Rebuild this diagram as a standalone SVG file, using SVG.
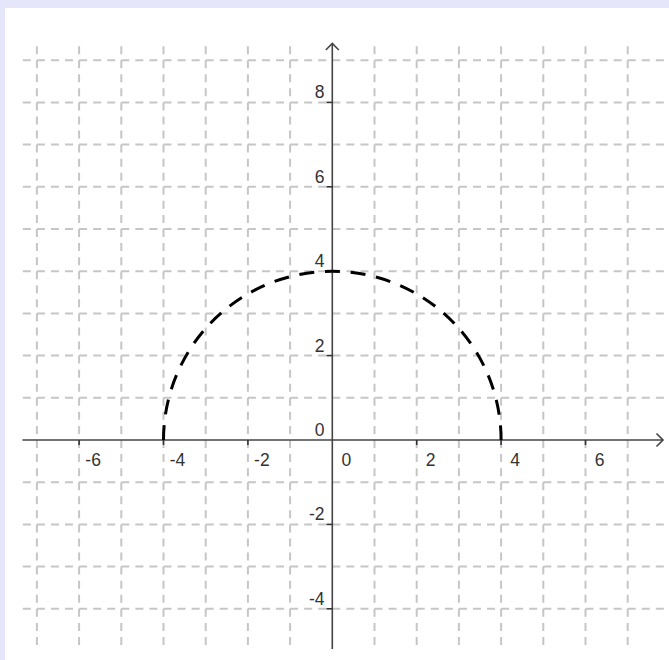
<svg xmlns="http://www.w3.org/2000/svg" width="669" height="660" viewBox="0 0 669 660">
<defs>
<style>
.vg{stroke:#c6c6c6;stroke-width:2;stroke-dasharray:8 6.067;fill:none}
.hg{stroke:#c6c6c6;stroke-width:2;stroke-dasharray:8 6.067;fill:none}
.ax{stroke:#444;stroke-width:1.6;fill:none}
.tk{stroke:#333;stroke-width:1.6;fill:none}
.lx{font-family:"Liberation Sans",Arial,sans-serif;font-size:17.5px;fill:#333;text-anchor:middle}
.ly{font-family:"Liberation Sans",Arial,sans-serif;font-size:17.5px;fill:#333;text-anchor:end}
.curve{stroke:#000;stroke-width:3;fill:none;stroke-dasharray:15 10.76}
</style>
</defs>
<rect x="0" y="0" width="669" height="660" fill="#e6e6fa"/>
<rect x="5" y="8" width="664" height="652" fill="#fff"/>
<g id="grid">
<g id="vgrid">
<line class="vg" x1="36.9" y1="46.13" x2="36.9" y2="645"/>
<line class="vg" x1="79.1" y1="46.13" x2="79.1" y2="645"/>
<line class="vg" x1="121.3" y1="46.13" x2="121.3" y2="645"/>
<line class="vg" x1="163.5" y1="46.13" x2="163.5" y2="645"/>
<line class="vg" x1="205.7" y1="46.13" x2="205.7" y2="645"/>
<line class="vg" x1="247.9" y1="46.13" x2="247.9" y2="645"/>
<line class="vg" x1="290.1" y1="46.13" x2="290.1" y2="645"/>
<line class="vg" x1="374.5" y1="46.13" x2="374.5" y2="645"/>
<line class="vg" x1="416.7" y1="46.13" x2="416.7" y2="645"/>
<line class="vg" x1="458.9" y1="46.13" x2="458.9" y2="645"/>
<line class="vg" x1="501.1" y1="46.13" x2="501.1" y2="645"/>
<line class="vg" x1="543.3" y1="46.13" x2="543.3" y2="645"/>
<line class="vg" x1="585.5" y1="46.13" x2="585.5" y2="645"/>
<line class="vg" x1="627.7" y1="46.13" x2="627.7" y2="645"/>
</g>
<g id="hgrid">
<line class="hg" x1="22.83" y1="60.2" x2="669" y2="60.2"/>
<line class="hg" x1="22.83" y1="102.4" x2="669" y2="102.4"/>
<line class="hg" x1="22.83" y1="144.6" x2="669" y2="144.6"/>
<line class="hg" x1="22.83" y1="186.8" x2="669" y2="186.8"/>
<line class="hg" x1="22.83" y1="229" x2="669" y2="229"/>
<line class="hg" x1="22.83" y1="271.2" x2="669" y2="271.2"/>
<line class="hg" x1="22.83" y1="313.4" x2="669" y2="313.4"/>
<line class="hg" x1="22.83" y1="355.6" x2="669" y2="355.6"/>
<line class="hg" x1="22.83" y1="397.8" x2="669" y2="397.8"/>
<line class="hg" x1="22.83" y1="482.2" x2="669" y2="482.2"/>
<line class="hg" x1="22.83" y1="524.4" x2="669" y2="524.4"/>
<line class="hg" x1="22.83" y1="566.6" x2="669" y2="566.6"/>
<line class="hg" x1="22.83" y1="608.8" x2="669" y2="608.8"/>
</g>
</g>
<g id="axes">
<line class="ax" x1="22.5" y1="440" x2="663" y2="440"/>
<polyline class="ax" points="656.5,433.5 663,440 656.5,446.5"/>
<line class="ax" x1="332.3" y1="649" x2="332.3" y2="43.5"/>
<polyline class="ax" points="325.8,50 332.3,43.5 338.8,50"/>
<g id="xticks">
<line class="tk" x1="79.1" y1="440" x2="79.1" y2="445"/>
<line class="tk" x1="163.5" y1="440" x2="163.5" y2="445"/>
<line class="tk" x1="247.9" y1="440" x2="247.9" y2="445"/>
<line class="tk" x1="416.7" y1="440" x2="416.7" y2="445"/>
<line class="tk" x1="501.1" y1="440" x2="501.1" y2="445"/>
<line class="tk" x1="585.5" y1="440" x2="585.5" y2="445"/>
</g>
<g id="yticks">
<line class="tk" x1="326.5" y1="102.4" x2="332.3" y2="102.4"/>
<line class="tk" x1="326.5" y1="186.8" x2="332.3" y2="186.8"/>
<line class="tk" x1="326.5" y1="271.2" x2="332.3" y2="271.2"/>
<line class="tk" x1="326.5" y1="355.6" x2="332.3" y2="355.6"/>
<line class="tk" x1="326.5" y1="524.4" x2="332.3" y2="524.4"/>
<line class="tk" x1="326.5" y1="608.8" x2="332.3" y2="608.8"/>
</g>
</g>
<g id="xlabels">
<text class="lx" x="93.1" y="465.5">-6</text>
<text class="lx" x="177.5" y="465.5">-4</text>
<text class="lx" x="261.9" y="465.5">-2</text>
<text class="lx" x="346.3" y="465.5">0</text>
<text class="lx" x="430.7" y="465.5">2</text>
<text class="lx" x="515.1" y="465.5">4</text>
<text class="lx" x="599.5" y="465.5">6</text>
</g>
<g id="ylabels">
<text class="ly" x="324.5" y="98.4">8</text>
<text class="ly" x="324.5" y="182.8">6</text>
<text class="ly" x="324.5" y="267.2">4</text>
<text class="ly" x="324.5" y="351.6">2</text>
<text class="ly" x="324.5" y="436">0</text>
<text class="ly" x="324.5" y="520.4">-2</text>
<text class="ly" x="324.5" y="604.8">-4</text>
</g>
<g id="curve">
<path class="curve" d="M163.5,440 A168.8,168.8 0 0 1 501.1,440"/>
</g>
</svg>
